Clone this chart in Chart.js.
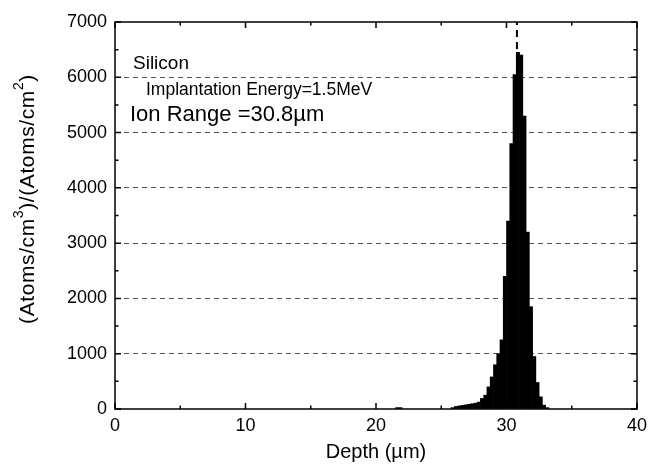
<!DOCTYPE html>
<html>
<head>
<meta charset="utf-8">
<script src="https://cdn.jsdelivr.net/npm/chart.js@4.4.0/dist/chart.umd.min.js"></script>
<style>
  html, body { margin: 0; padding: 0; background: #fff; }
  #wrap { width: 648px; height: 469px; }
</style>
</head>
<body>
<div id="wrap"><canvas id="chart" width="648" height="469"></canvas></div>
<script>
// Histogram of implanted ions: bin left edge (um) and count per bin
const binWidth = 0.25;
const binLeft = [21.5, 21.75,
    25.75, 26.0, 26.25, 26.5, 26.75, 27.0, 27.25, 27.5, 27.75,
    28.0, 28.25, 28.5, 28.75, 29.0, 29.25, 29.5, 29.75,
    30.0, 30.25, 30.5, 30.75, 31.0, 31.25, 31.5, 31.75,
    32.0, 32.25, 32.5, 32.75, 33.0];
const counts = [25, 25,
    25, 45, 55, 65, 75, 85, 95, 105, 125,
    190, 250, 400, 580, 800, 1000, 1250, 2400,
    3400, 4800, 6050, 6450, 6400, 5300, 3200, 1850,
    950, 480, 220, 70, 25];

const ionRange = 30.8;

// Axis ticks
const xTicks = [0, 10, 20, 30, 40];
const xMinorTicks = [5, 15, 25, 35];
const yTicks = [0, 1000, 2000, 3000, 4000, 5000, 6000, 7000];
const yMinorTicks = [500, 1500, 2500, 3500, 4500, 5500, 6500];

const FONT = 'Liberation Sans, Arial, Helvetica, sans-serif';

// draw rotated y title with real superscripts
function drawYTitle(ctx, cx, cy, size) {
    const parts = [
        ['(Atoms/cm', false], ['3', true], [')/(Atoms/cm', false], ['2', true], [')', false]
    ];
    const big = size + 'px ' + FONT;
    const small = Math.round(size * 0.65) + 'px ' + FONT;
    ctx.save();
    ctx.letterSpacing = '0.6px';
    let total = 0;
    parts.forEach(p => { ctx.font = p[1] ? small : big; total += ctx.measureText(p[0]).width; });
    ctx.translate(cx, cy);
    ctx.rotate(-Math.PI / 2);
    ctx.textBaseline = 'middle';
    ctx.textAlign = 'left';
    ctx.fillStyle = '#000';
    let x = -total / 2;
    parts.forEach(p => {
        ctx.font = p[1] ? small : big;
        ctx.fillText(p[0], x, p[1] ? -size * 0.4 : 0);
        x += ctx.measureText(p[0]).width;
    });
    ctx.restore();
}

// Frame, inward tick marks and text labels
const framePlugin = {
    id: 'frame',
    beforeDraw(chart) {
        const ctx = chart.ctx;
        ctx.save();
        ctx.fillStyle = '#fff';
        ctx.fillRect(0, 0, chart.width, chart.height);
        ctx.restore();
    },
    afterDraw(chart) {
        const ctx = chart.ctx;
        const a = chart.chartArea;
        const xs = chart.scales.x;
        const ys = chart.scales.y;
        ctx.save();
        ctx.strokeStyle = '#000';
        ctx.lineWidth = 1.5;
        ctx.beginPath();
        const mark = (list, len) => {
            list.forEach(v => {
                const px = xs.getPixelForValue(v);
                ctx.moveTo(px, a.bottom); ctx.lineTo(px, a.bottom - len);
                ctx.moveTo(px, a.top); ctx.lineTo(px, a.top + len);
            });
        };
        const markY = (list, len) => {
            list.forEach(v => {
                const py = ys.getPixelForValue(v);
                ctx.moveTo(a.left, py); ctx.lineTo(a.left + len, py);
                ctx.moveTo(a.right, py); ctx.lineTo(a.right - len, py);
            });
        };
        mark(xTicks, 6);
        mark(xMinorTicks, 3.5);
        markY(yTicks, 6);
        markY(yMinorTicks, 3.5);
        ctx.stroke();
        ctx.strokeRect(a.left, a.top, a.right - a.left, a.bottom - a.top);

        // annotation text
        ctx.fillStyle = '#000';
        ctx.textBaseline = 'middle';
        ctx.textAlign = 'left';
        ctx.font = '19px ' + FONT;
        ctx.fillText('Silicon', a.left + 18, 64);
        ctx.font = '17.5px ' + FONT;
        ctx.fillText('Implantation Energy=1.5MeV', a.left + 31, 90);
        ctx.font = '22px ' + FONT;
        ctx.fillText('Ion Range =30.8\u00b5m', a.left + 15, 115);
        ctx.restore();

        drawYTitle(ctx, 28, 199, 21);
    }
};

const ctx = document.getElementById('chart').getContext('2d');
new Chart(ctx, {
    type: 'bar',
    data: {
        datasets: [{
            type: 'bar',
            data: binLeft.map((x, i) => ({ x: x + binWidth / 2, y: counts[i] })),
            backgroundColor: '#000',
            borderWidth: 0,
            barPercentage: 1,
            categoryPercentage: 1,
            order: 1
        }, {
            type: 'line',
            data: [{ x: ionRange, y: 0 }, { x: ionRange, y: 7000 }],
            borderColor: '#000',
            borderWidth: 2,
            borderDash: [7, 5],
            pointRadius: 0,
            fill: false,
            order: 2
        }]
    },
    options: {
        responsive: false,
        animation: false,
        layout: { padding: { top: 22, right: 11, left: 0, bottom: 0 } },
        plugins: {
            legend: { display: false },
            tooltip: { enabled: false }
        },
        scales: {
            x: {
                type: 'linear',
                min: 0,
                max: 40,
                offset: false,
                afterBuildTicks: s => { s.ticks = xTicks.map(v => ({ value: v })); },
                afterFit: s => { s.height = 60; s.paddingLeft = 0; s.paddingRight = 0; },
                grid: { display: false, drawTicks: false },
                border: { display: false },
                ticks: { color: '#000', padding: 6, font: { family: FONT, size: 18 }, callback: v => String(v) },
                title: {
                    display: true,
                    text: 'Depth (\u00b5m)',
                    color: '#000',
                    font: { family: FONT, size: 20 },
                    padding: { top: 0, bottom: 5 }
                }
            },
            y: {
                min: 0,
                max: 7000,
                afterBuildTicks: s => { s.ticks = yTicks.map(v => ({ value: v })); },
                afterFit: s => { s.width = 115; s.paddingTop = 0; s.paddingBottom = 0; },
                grid: {
                    drawTicks: false,
                    color: c => (c.tick && (c.tick.value === 0 || c.tick.value === 7000)) ? 'rgba(0,0,0,0)' : '#555',
                    lineWidth: 1
                },
                border: { display: false, dash: [5, 4] },
                ticks: { color: '#000', padding: 8, font: { family: FONT, size: 18 }, callback: v => String(v) },
                title: { display: false }
            }
        }
    },
    plugins: [framePlugin]
});
</script>
</body>
</html>
